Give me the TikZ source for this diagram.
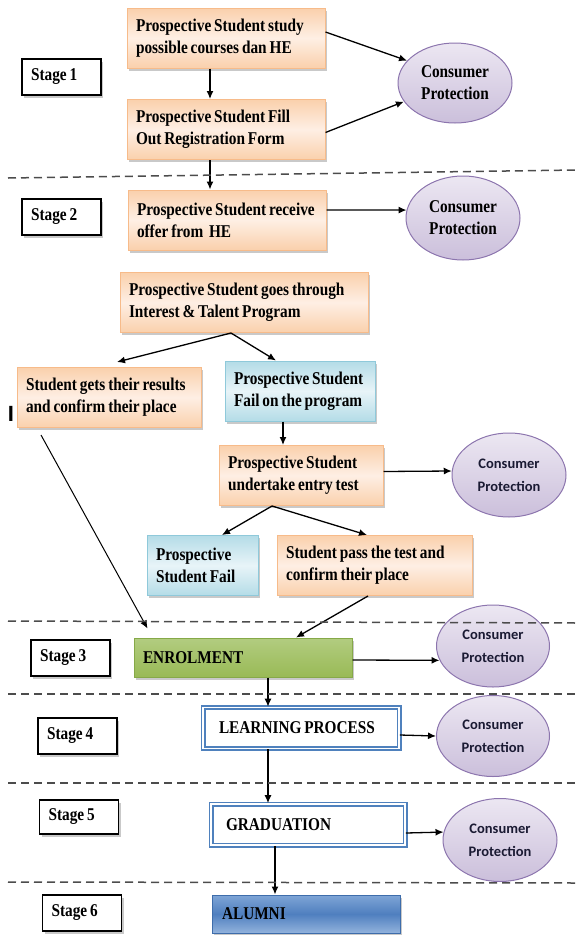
\documentclass[tikz,border=0pt]{standalone}
\usepackage{fontspec}
\setmainfont{Liberation Serif}[FakeStretch=0.85]
\setsansfont{Liberation Sans}
\newfontfamily\cpfont{Carlito}
\usepackage{tikz}
\usetikzlibrary{shapes.geometric,arrows.meta,shadows}

\definecolor{orangeedge}{HTML}{F7BB8A}
\definecolor{orangefill}{HTML}{FAD0AC}
\definecolor{orangemid}{HTML}{FEEFE4}
\definecolor{blueedge}{HTML}{8FC9DA}
\definecolor{bluefill}{HTML}{B4DCE7}
\definecolor{bluemid}{HTML}{E8F4F8}
\definecolor{greenedge}{HTML}{86A948}
\definecolor{greentop}{HTML}{B2CC80}
\definecolor{greenfill}{HTML}{99BA56}
\definecolor{purpleedge}{HTML}{8C75AE}
\definecolor{purpletop}{HTML}{ECE7F2}
\definecolor{purplefill}{HTML}{CBBFDB}
\definecolor{frameblue}{HTML}{4F81BD}
\definecolor{alumnitop}{HTML}{7FA5D6}
\definecolor{alumnimid}{HTML}{4F7FBF}
\definecolor{alumniedge}{HTML}{3E6DAB}
\definecolor{cptext}{HTML}{1A1A33}

\begin{document}
\begin{tikzpicture}[x=1pt, y=-1pt,
    every node/.style={font=\fontsize{18}{22}\selectfont\bfseries, execute at begin node={\spaceskip=0.16em\relax}},
    boxshadow/.style={drop shadow={shadow xshift=2pt, shadow yshift=-2.5pt, opacity=0.3, fill=black!70}},
    stagebox/.style={rectangle, draw, line width=1.3pt, fill=white, text width=61pt, inner xsep=9pt, minimum height=36pt, align=left, boxshadow},
    orangebox/.style={rectangle, draw=orangeedge, line width=1pt, top color=orangefill, bottom color=orangefill, middle color=orangemid, inner xsep=9pt, minimum height=60pt, align=left, boxshadow},
    bluebox/.style={rectangle, draw=blueedge, line width=1pt, top color=bluefill, bottom color=bluefill, middle color=bluemid, inner xsep=9pt, minimum height=60pt, align=left, boxshadow},
    greenbox/.style={rectangle, draw=greenedge, line width=1pt, top color=greentop, bottom color=greenfill, inner xsep=9pt, minimum height=39pt, align=left, boxshadow},
    framebox/.style={rectangle, draw=frameblue, line width=1.6pt, double=white, double distance=1.8pt, fill=white, minimum height=41pt, align=left},
    alumnibox/.style={rectangle, draw=alumniedge, line width=1pt, top color=alumnitop, bottom color=alumnitop!85!white, middle color=alumnimid, inner xsep=10pt, minimum height=38pt, align=left, boxshadow},
    cpserif/.style={ellipse, draw=purpleedge, line width=1pt, top color=purpletop, bottom color=purplefill, minimum width=114pt, minimum height=80pt, inner sep=0pt, align=center},
    cpsans/.style={cpserif, minimum height=83pt, text=cptext, font=\cpfont\bfseries\fontsize{14.5}{23}\selectfont},
    arr/.style={-{Latex[length=8pt,width=7pt]}, line width=1.3pt},
    sepline/.style={black!70, line width=1.5pt, dash pattern=on 8pt off 5pt}]

    \useasboundingbox (0,0) rectangle (577,935);

    % Stages
    \node[stagebox] (st1) at (61.5,77) {Stage 1};
    \node[stagebox] (st2) at (61.5,217) {Stage 2};
    \node[stagebox] (st3) at (70.5,658) {Stage 3};
    \node[stagebox] (st4) at (77.5,736) {Stage 4};
    \node[stagebox, minimum height=34pt] (st5) at (79,817) {Stage 5};
    \node[stagebox] (st6) at (82,913) {Stage 6};

    % Steps of the student
    \node[orangebox, text width=180pt] (study) at (226,38) {Prospective Student study\\possible courses dan HE};
    \node[orangebox, text width=180pt] (fill) at (226,129.5) {Prospective Student Fill\\Out Registration Form};
    \node[orangebox, text width=180pt] (receive) at (227,220) {Prospective Student receive\\offer from \ HE};
    \node[orangebox, text width=230pt] (interest) at (244,302.5) {Prospective Student goes through\\Interest \& Talent Program};
    \node[orangebox, text width=166pt] (results) at (109,397.5) {Student gets their results\\and confirm their place};
    \node[bluebox, text width=132pt] (failprog) at (300,391) {Prospective Student\\Fail on the program};
    \node[orangebox, text width=146pt] (entry) at (301,475.5) {Prospective Student\\undertake entry test};
    \node[bluebox, text width=93pt] (fail) at (202.5,565.5) {Prospective\\Student Fail};
    \node[orangebox, text width=177pt] (pass) at (374.5,565.5) {Student pass the test and\\confirm their place};
    \node[greenbox, text width=200pt] (enrol) at (243,657.5) {ENROLMENT};
    \node[framebox, text width=164pt, inner xsep=16pt] (learn) at (301,728) {LEARNING PROCESS};
    \node[framebox, text width=164pt, inner xsep=15pt] (grad) at (308,824.5) {GRADUATION};
    \node[alumnibox, text width=168pt] (alumni) at (306,914) {ALUMNI};
    \node[font=\sffamily\bfseries\fontsize{22}{22}\selectfont] (bar) at (11,414) {I};

    % Consumer protection
    \node[cpserif] (cp1) at (455,83) {Consumer\\Protection};
    \node[cpserif, minimum height=84pt] (cp2) at (463,218) {Consumer\\Protection};
    \node[cpsans, minimum height=84pt] (cp3) at (509,475) {Consumer\\Protection};
    \node[cpsans, minimum width=113pt, minimum height=82pt] (cp4) at (493,646) {Consumer\\Protection};
    \node[cpsans, minimum width=113pt, minimum height=81pt] (cp5) at (493,736) {Consumer\\Protection};
    \node[cpsans] (cp6) at (500,840) {Consumer\\Protection};

    \draw[arr] ([xshift=-16pt]study.south) -- ([xshift=-16pt]fill.north);
    \draw[arr] ([yshift=6pt]study.east) -- (cp1.155);
    \draw[arr] ([yshift=-3pt]fill.east) -- (cp1.200);
    \draw[arr] ([xshift=-16pt]fill.south) -- ([xshift=-17pt]receive.north);
    \draw[arr] ([yshift=10pt]receive.east) -- (cp2.172);
    \draw[arr] ([xshift=-13pt]interest.south) -- ([xshift=8pt,yshift=5pt]results.north);
    \draw[arr] ([xshift=-13pt]interest.south) -- ([xshift=-24pt]failprog.north);
    \draw[arr] ([xshift=-17pt]failprog.south) -- ([xshift=-18pt]entry.north);
    \draw[arr] ([yshift=4pt]entry.east) -- (cp3.176);
    \draw[arr] ([xshift=-29pt]entry.south) -- ([xshift=19.5pt]fail.north);
    \draw[arr] ([xshift=-29pt]entry.south) -- ([xshift=-7.5pt]pass.north);
    \draw[arr, line width=1pt] ([xshift=-68pt,yshift=-7pt]results.south) -- ([xshift=14pt,yshift=9pt]enrol.north west);
    \draw[arr] ([xshift=-6.5pt]pass.south) -- ([xshift=53pt]enrol.north);
    \draw[arr] ([yshift=-2.5pt]enrol.east) -- (cp4.195);
    \draw[arr] ([xshift=25pt]enrol.south) -- ([xshift=-33pt]learn.north);
    \draw[arr] ([yshift=-7pt]learn.east) -- (cp5.west);
    \draw[arr] ([xshift=-33pt]learn.south) -- ([xshift=-40pt]grad.north);
    \draw[arr] ([yshift=-8.5pt]grad.east) -- (cp6.172);
    \draw[arr] ([xshift=-33pt]grad.south) -- ([xshift=-31pt]alumni.north);

    % Stage borders
    \draw[sepline] (8,178) -- (577,170);
    \draw[sepline] (8,621) -- (577,623);
    \draw[sepline] (8,694) -- (577,694);
    \draw[sepline] (8,783) -- (577,783);
    \draw[sepline] (8,882) -- (577,883);
\end{tikzpicture}
\end{document}
